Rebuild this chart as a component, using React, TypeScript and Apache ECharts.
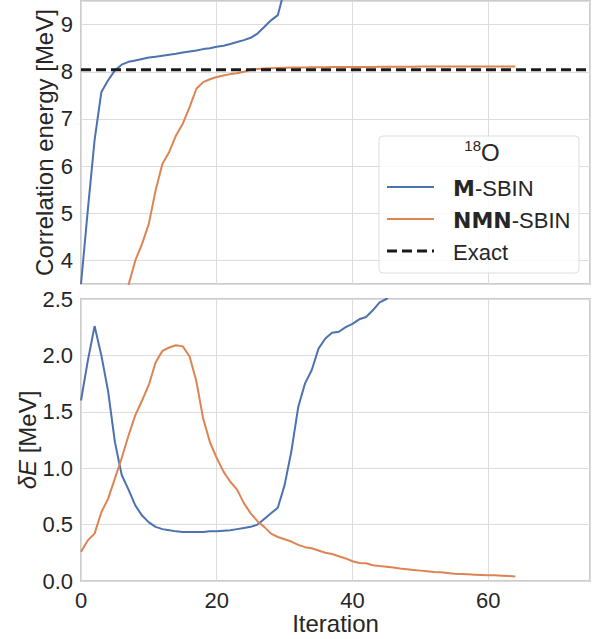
import React, { useEffect, useRef } from 'react';
import * as echarts from 'echarts';

// Top panel: correlation energy [MeV] per iteration
const mSbinEnergyStart = 0;
const mSbinEnergy = [3.5, 5.06, 6.55, 7.57, 7.82, 8.03, 8.15, 8.21, 8.24, 8.27, 8.3, 8.32, 8.34, 8.36, 8.38, 8.41, 8.43, 8.45, 8.48, 8.5, 8.53, 8.55, 8.59, 8.63, 8.67, 8.72, 8.81, 8.95, 9.09, 9.2, 9.75];
const nmnSbinEnergyStart = 7;
const nmnSbinEnergy = [3.48, 4.0, 4.35, 4.78, 5.49, 6.05, 6.3, 6.65, 6.9, 7.25, 7.64, 7.78, 7.84, 7.89, 7.92, 7.95, 7.97, 8.0, 8.04, 8.06,
  8.07, 8.075, 8.08, 8.085, 8.09, 8.09, 8.09, 8.095, 8.095, 8.095, 8.1, 8.1, 8.1, 8.1, 8.1, 8.1, 8.1, 8.105, 8.105, 8.105, 8.105, 8.105, 8.105, 8.11,
  8.11, 8.11, 8.11, 8.11, 8.11, 8.11, 8.11, 8.11, 8.11, 8.11, 8.11, 8.11, 8.11, 8.11];
const exactEnergy = 8.04;

// Bottom panel: deltaE [MeV] per iteration
const mSbinDelta = [1.6, 1.95, 2.26, 2.0, 1.68, 1.23, 0.94, 0.81, 0.67, 0.58, 0.52, 0.48, 0.46, 0.45, 0.44, 0.435, 0.435, 0.435, 0.435, 0.44, 0.44, 0.445, 0.45, 0.46, 0.47, 0.48, 0.5, 0.55, 0.6, 0.65, 0.85, 1.15, 1.54, 1.75, 1.87, 2.06, 2.15, 2.2, 2.21, 2.25, 2.28, 2.32, 2.34, 2.4, 2.47, 2.5, 2.56];
const nmnSbinDelta = [0.26, 0.36, 0.42, 0.61, 0.73, 0.91, 1.09, 1.29, 1.47, 1.6, 1.74, 1.94, 2.04, 2.07, 2.09, 2.08, 1.99, 1.77, 1.44, 1.23, 1.09, 0.97, 0.88, 0.81, 0.69, 0.6, 0.53, 0.48, 0.42, 0.39, 0.37, 0.35, 0.32, 0.3, 0.29, 0.27, 0.25, 0.24, 0.22, 0.2, 0.175, 0.16, 0.157, 0.14, 0.133, 0.127, 0.12, 0.11, 0.104, 0.098, 0.092, 0.086, 0.08, 0.077, 0.071, 0.065, 0.062, 0.059, 0.056, 0.053, 0.05, 0.05, 0.047, 0.044, 0.04];

const xTicks = [0, 20, 40, 60];
const xRange = [0, 75];
const topYRange = [3.5, 9.5];
const bottomYRange = [0, 2.5];

const BLUE = '#4c72b0';
const ORANGE = '#dd8452';
const TEXT = '#262626';
const FONT = '"Liberation Sans", Arial, sans-serif';
const BOLD_FONT = '"DejaVu Sans", sans-serif';

const pairs = (start: number, arr: number[]) => arr.map((v, i) => [start + i, v]);

export default function App() {
  const ref = useRef<HTMLDivElement>(null);
  useEffect(() => {
    if (!ref.current) return;
    const chart = echarts.init(ref.current, undefined, { renderer: 'svg' });
    const splitLine = { show: true, lineStyle: { color: '#dcdcdc', width: 1 } };
    const xCommon = {
      type: 'value' as const,
      min: xRange[0],
      max: xRange[1],
      interval: 20,
      axisLine: { show: false },
      axisTick: { show: false },
      splitLine,
    };
    const boldRich = { b: { fontWeight: 'bold', fontSize: 22, fontFamily: BOLD_FONT, fill: TEXT } };
    chart.setOption({
      animation: false,
      backgroundColor: '#ffffff',
      textStyle: { fontFamily: FONT, color: TEXT },
      grid: [
        { left: 81, right: 6, top: 1, height: 283, show: true, borderColor: '#cccccc', borderWidth: 2, backgroundColor: 'transparent' },
        { left: 81, right: 6, top: 299, height: 282, show: true, borderColor: '#cccccc', borderWidth: 2, backgroundColor: 'transparent' },
      ],
      xAxis: [
        { ...xCommon, gridIndex: 0, axisLabel: { show: false } },
        {
          ...xCommon,
          gridIndex: 1,
          name: 'Iteration',
          nameLocation: 'middle',
          nameGap: 30,
          nameTextStyle: { fontSize: 24, color: TEXT, fontFamily: FONT },
          axisLabel: {
            fontSize: 22, color: TEXT, fontFamily: FONT, margin: 8,
            formatter: (v: number) => (xTicks.includes(v) ? String(v) : ''),
          },
        },
      ],
      yAxis: [
        {
          type: 'value', gridIndex: 0, min: topYRange[0], max: topYRange[1],
          axisLine: { show: false }, axisTick: { show: false }, splitLine,
          name: 'Correlation energy [MeV]', nameLocation: 'middle', nameGap: 25,
          nameMoveOverlap: false,
          nameTextStyle: { fontSize: 24, color: TEXT, fontFamily: FONT },
          axisLabel: {
            fontSize: 22, color: TEXT, fontFamily: FONT, margin: 8,
            formatter: (v: number) => (Math.abs(v - Math.round(v)) < 1e-6 ? String(Math.round(v)) : ''),
          },
        },
        {
          type: 'value', gridIndex: 1, min: bottomYRange[0], max: bottomYRange[1], interval: 0.5,
          axisLine: { show: false }, axisTick: { show: false }, splitLine,
          name: '{i|δE} [MeV]', nameLocation: 'middle', nameGap: 42,
          nameMoveOverlap: false,
          nameTextStyle: { fontSize: 24, color: TEXT, fontFamily: FONT, rich: { i: { fontStyle: 'italic', fontSize: 24, fontFamily: FONT, color: TEXT } } },
          axisLabel: { fontSize: 22, color: TEXT, fontFamily: FONT, margin: 8, formatter: (v: number) => v.toFixed(1) },
        },
      ],
      series: [
        { name: 'M-SBIN', type: 'line', xAxisIndex: 0, yAxisIndex: 0, data: pairs(mSbinEnergyStart, mSbinEnergy), showSymbol: false, lineStyle: { color: BLUE, width: 2 }, clip: true },
        { name: 'NMN-SBIN', type: 'line', xAxisIndex: 0, yAxisIndex: 0, data: pairs(nmnSbinEnergyStart, nmnSbinEnergy), showSymbol: false, lineStyle: { color: ORANGE, width: 2 }, clip: true },
        { name: 'Exact', type: 'line', xAxisIndex: 0, yAxisIndex: 0, data: [[xRange[0], exactEnergy], [xRange[1], exactEnergy]], showSymbol: false, lineStyle: { color: '#1a1a1a', width: 3, type: [10, 5] }, z: 3 },
        { name: 'M-SBIN', type: 'line', xAxisIndex: 1, yAxisIndex: 1, data: pairs(0, mSbinDelta), showSymbol: false, lineStyle: { color: BLUE, width: 2 }, clip: true },
        { name: 'NMN-SBIN', type: 'line', xAxisIndex: 1, yAxisIndex: 1, data: pairs(0, nmnSbinDelta), showSymbol: false, lineStyle: { color: ORANGE, width: 2 }, clip: true },
      ],
      graphic: [
        { type: 'rect', z: 10, shape: { x: 379, y: 136, width: 200, height: 137, r: 4 }, style: { fill: 'rgba(255,255,255,0.85)', stroke: '#dddddd', lineWidth: 1 } },
        { type: 'text', z: 11, style: { x: 481, y: 153, text: '18', font: `15px ${FONT}`, fill: TEXT, textAlign: 'right', textVerticalAlign: 'bottom' } },
        { type: 'text', z: 11, style: { x: 481, y: 164, text: 'O', font: `24px ${FONT}`, fill: TEXT, textAlign: 'left', textVerticalAlign: 'bottom' } },
        { type: 'line', z: 11, shape: { x1: 387, y1: 187, x2: 434, y2: 187 }, style: { stroke: BLUE, lineWidth: 2 } },
        { type: 'line', z: 11, shape: { x1: 387, y1: 219, x2: 434, y2: 219 }, style: { stroke: ORANGE, lineWidth: 2 } },
        { type: 'line', z: 11, shape: { x1: 387, y1: 251, x2: 434, y2: 251 }, style: { stroke: '#1a1a1a', lineWidth: 3, lineDash: [10, 5] } },
        { type: 'text', z: 11, style: { x: 453, y: 188, text: '{b|M}-SBIN', font: `22px ${FONT}`, fill: TEXT, textVerticalAlign: 'middle', rich: boldRich } },
        { type: 'text', z: 11, style: { x: 453, y: 220, text: '{b|NMN}-SBIN', font: `22px ${FONT}`, fill: TEXT, textVerticalAlign: 'middle', rich: boldRich } },
        { type: 'text', z: 11, style: { x: 453, y: 252, text: 'Exact', font: `22px ${FONT}`, fill: TEXT, textVerticalAlign: 'middle' } },
      ],
    });
    return () => chart.dispose();
  }, []);
  return <div ref={ref} style={{ position: 'fixed', left: 0, top: 0, width: 596, height: 639 }} />;
}
